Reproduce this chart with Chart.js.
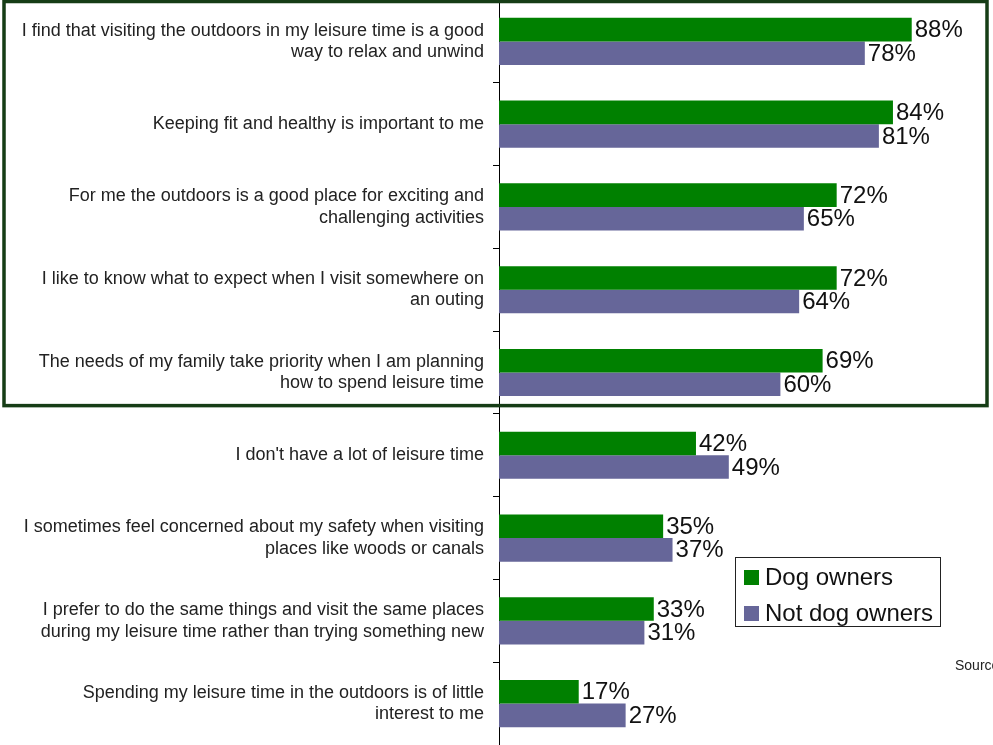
<!DOCTYPE html>
<html>
<head>
<meta charset="utf-8">
<script src="https://cdn.jsdelivr.net/npm/chart.js@4/dist/chart.umd.min.js"></script>
<style>
  html, body { margin: 0; padding: 0; background: #fff; overflow: hidden; }
  #wrap { width: 993px; height: 745px; position: relative; }
</style>
</head>
<body>
<div id="wrap"><canvas id="c" width="993" height="745"></canvas></div>
<script>
// Attitude statements (multi-line labels)
const statements = [
  ["I find that visiting the outdoors in my leisure time is a good", "way to relax and unwind"],
  "Keeping fit and healthy is important to me",
  ["For me the outdoors is a good place for exciting and", "challenging activities"],
  ["I like to know what to expect when I visit somewhere on", "an outing"],
  ["The needs of my family take priority when I am planning", "how to spend leisure time"],
  "I don't have a lot of leisure time",
  ["I sometimes feel concerned about my safety when visiting", "places like woods or canals"],
  ["I prefer to do the same things and visit the same places", "during my leisure time rather than trying something new"],
  ["Spending my leisure time in the outdoors is of little", "interest to me"]
];

// Percentage agreeing
const dogOwners    = [88, 84, 72, 72, 69, 42, 35, 33, 17];
const notDogOwners = [78, 81, 65, 64, 60, 49, 37, 31, 27];

const seriesNames  = ["Dog owners", "Not dog owners"];
const seriesColors = ["#008000", "#666699"];

// Number of leading statements grouped inside the highlight frame
const highlightedCount = 5;

const FONT = "'Liberation Sans', Arial, sans-serif";

// Percentage labels at the end of each bar
const valueLabels = {
  id: 'valueLabels',
  afterDatasetsDraw(chart) {
    const ctx = chart.ctx;
    ctx.save();
    ctx.font = "24px " + FONT;
    ctx.fillStyle = "#111";
    ctx.textAlign = "left";
    ctx.textBaseline = "middle";
    chart.data.datasets.forEach((ds, i) => {
      chart.getDatasetMeta(i).data.forEach((bar, j) => {
        ctx.fillText(ds.data[j] + "%", bar.x + 3, bar.y + 1);
      });
    });
    ctx.restore();
  }
};

// Dark green frame around the top group of statements, legend box and source note
const decorations = {
  id: 'decorations',
  afterDraw(chart) {
    const ctx = chart.ctx;
    const y = chart.scales.y;
    const band = y.getPixelForValue(1) - y.getPixelForValue(0);
    const frameBottom = y.getPixelForValue(highlightedCount - 1) + band * 0.4;

    ctx.save();
    ctx.strokeStyle = "#163d16";
    ctx.lineWidth = 3.5;
    ctx.strokeRect(4, 1.5, 983, frameBottom - 1.5);

    // legend
    const lx = 735.5, ly = 557.5, lw = 205, lh = 69;
    ctx.fillStyle = "#fff";
    ctx.fillRect(lx, ly, lw, lh);
    ctx.strokeStyle = "#222";
    ctx.lineWidth = 1;
    ctx.strokeRect(lx, ly, lw, lh);
    ctx.font = "24px " + FONT;
    ctx.textBaseline = "alphabetic";
    ctx.textAlign = "left";
    chart.data.datasets.forEach((ds, i) => {
      const rowY = 570 + i * 36;
      ctx.fillStyle = ds.backgroundColor;
      ctx.fillRect(744, rowY, 15, 15);
      ctx.fillStyle = "#111";
      ctx.fillText(ds.label, 765, rowY + 15);
    });

    // source note (runs off the right edge)
    ctx.font = "14px " + FONT;
    ctx.fillStyle = "#222";
    ctx.fillText("Source:", 955, 670);
    ctx.restore();
  }
};

new Chart(document.getElementById('c'), {
  type: 'bar',
  data: {
    labels: statements,
    datasets: [
      { label: seriesNames[0], data: dogOwners,    backgroundColor: seriesColors[0] },
      { label: seriesNames[1], data: notDogOwners, backgroundColor: seriesColors[1] }
    ]
  },
  options: {
    indexAxis: 'y',
    responsive: false,
    animation: false,
    devicePixelRatio: 1,
    layout: { padding: { left: 0, right: 25, top: 0, bottom: 0 } },
    datasets: {
      bar: { categoryPercentage: 0.57, barPercentage: 1.0, borderWidth: 0 }
    },
    plugins: {
      legend: { display: false },
      tooltip: { enabled: false },
      title: { display: false }
    },
    scales: {
      x: {
        display: false,
        min: 0,
        max: 100
      },
      y: {
        afterFit(scale) {
          scale.width = 499;
          scale.paddingTop = 0;
          scale.paddingBottom = 0;
        },
        grid: {
          drawOnChartArea: false,
          drawTicks: true,
          tickLength: 6,
          color: '#000',
          offset: true
        },
        border: { display: true, color: '#000', width: 1 },
        ticks: {
          padding: 9,
          color: '#222',
          font: { family: FONT, size: 18, lineHeight: 1.2 },
          autoSkip: false
        }
      }
    }
  },
  plugins: [valueLabels, decorations]
});
</script>
</body>
</html>
